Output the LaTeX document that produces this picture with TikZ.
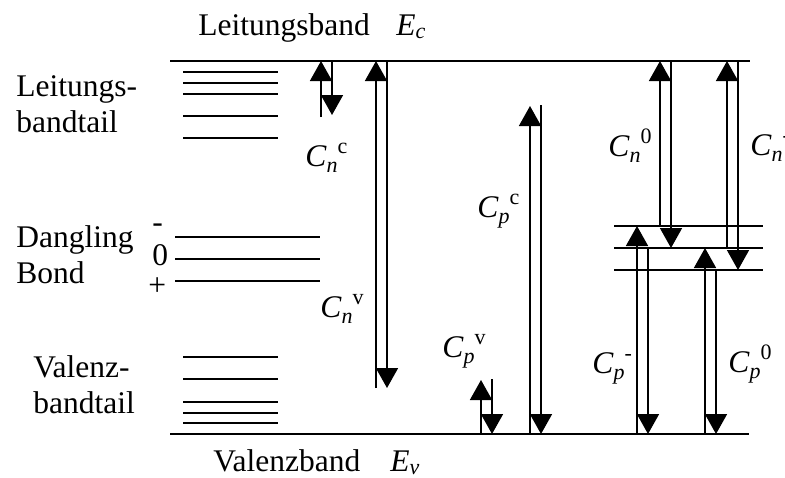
\documentclass[tikz,border=0pt]{standalone}
\usepackage{fontspec}
\setmainfont{Liberation Serif}
\usetikzlibrary{arrows.meta}
\tikzset{
    band/.style={line width=0.8pt},
    level/.style={line width=0.8pt},
    lbl/.style={anchor=base west, inner sep=0pt},
    trans/.style={line width=0.8pt, -{Triangle[width=11pt,length=10pt]}}
}
\newcommand{\lowidx}[1]{\raisebox{-1.5pt}{\fontsize{11}{11}\selectfont\textit{#1}}}
\newcommand{\rate}[2]{\textit{C}\raisebox{-3pt}{\fontsize{11}{11}\selectfont\textit{#1}}\raisebox{6.5pt}{\fontsize{11}{11}\selectfont #2}}

\begin{document}
\begin{tikzpicture}[x=0.5pt, y=-0.5pt, font=\fontsize{15.75}{18}\selectfont]
    \useasboundingbox (0,0) rectangle (785,477);

    % Baender
    \draw[band] (170,61) -- (750,61);
    \draw[band] (170,434) -- (749,434);
    \node[lbl] (lband) at (198,35) {Leitungsband};
    \node[lbl] (ec) at (396,35) {\textit{E}\lowidx{c}};
    \node[lbl] (vband) at (213,471) {Valenzband};
    \node[lbl] (ev) at (390,471) {\textit{E}\lowidx{v}};

    % Zustaende links
    \node[lbl, align=left] (ltail) at (16,132) {Leitungs-\\bandtail};
    \node[lbl, align=left] (dbond) at (16,283) {Dangling\\Bond};
    \node[lbl, align=left] (vtail) at (33,413) {Valenz-\\bandtail};
    \foreach \y in {72,83,94,116,138}
        \draw[level] (183,\y) -- (278,\y);
    \foreach \y in {237,259,281}
        \draw[level] (175,\y) -- (320,\y);
    \foreach \y in {357,379,402,413,423}
        \draw[level] (183,\y) -- (278,\y);
    \node[lbl] (qminus) at (152,232) {-};
    \node[lbl] (qnull) at (152,265) {0};
    \node[lbl] (qplus) at (148,295) {+};

    % Dangling Bond rechts
    \foreach \y in {226,248,270}
        \draw[level] (614,\y) -- (763,\y);

    % Uebergaenge
    \draw[trans] (321,117) -- (321,61);
    \draw[trans] (332,61) -- (332,115);
    \node[lbl] (cnc) at (305,166) {\rate{n}{c}};

    \draw[trans] (376,388) -- (376,61);
    \draw[trans] (387,61) -- (387,388);
    \node[lbl] (cnv) at (320,317) {\rate{n}{v}};

    \draw[trans] (481,434) -- (481,380);
    \draw[trans] (492,379) -- (492,434);
    \node[lbl] (cpv) at (442,357) {\rate{p}{v}};

    \draw[trans] (530,434) -- (530,106);
    \draw[trans] (541,105) -- (541,434);
    \node[lbl] (cpc) at (477,217) {\rate{p}{c}};

    \draw[trans] (660,226) -- (660,61);
    \draw[trans] (671,61) -- (671,248);
    \node[lbl] (cnnull) at (608,156) {\rate{n}{0}};

    \draw[trans] (727,248) -- (727,61);
    \draw[trans] (738,61) -- (738,270);
    \node[lbl] (cnminus) at (750,155) {\rate{n}{-}};

    \draw[trans] (637,434) -- (637,226);
    \draw[trans] (648,248) -- (648,434);
    \node[lbl] (cpminus) at (592,373) {\rate{p}{-}};

    \draw[trans] (705,434) -- (705,248);
    \draw[trans] (716,270) -- (716,434);
    \node[lbl] (cpnull) at (728,372) {\rate{p}{0}};
\end{tikzpicture}
\end{document}
